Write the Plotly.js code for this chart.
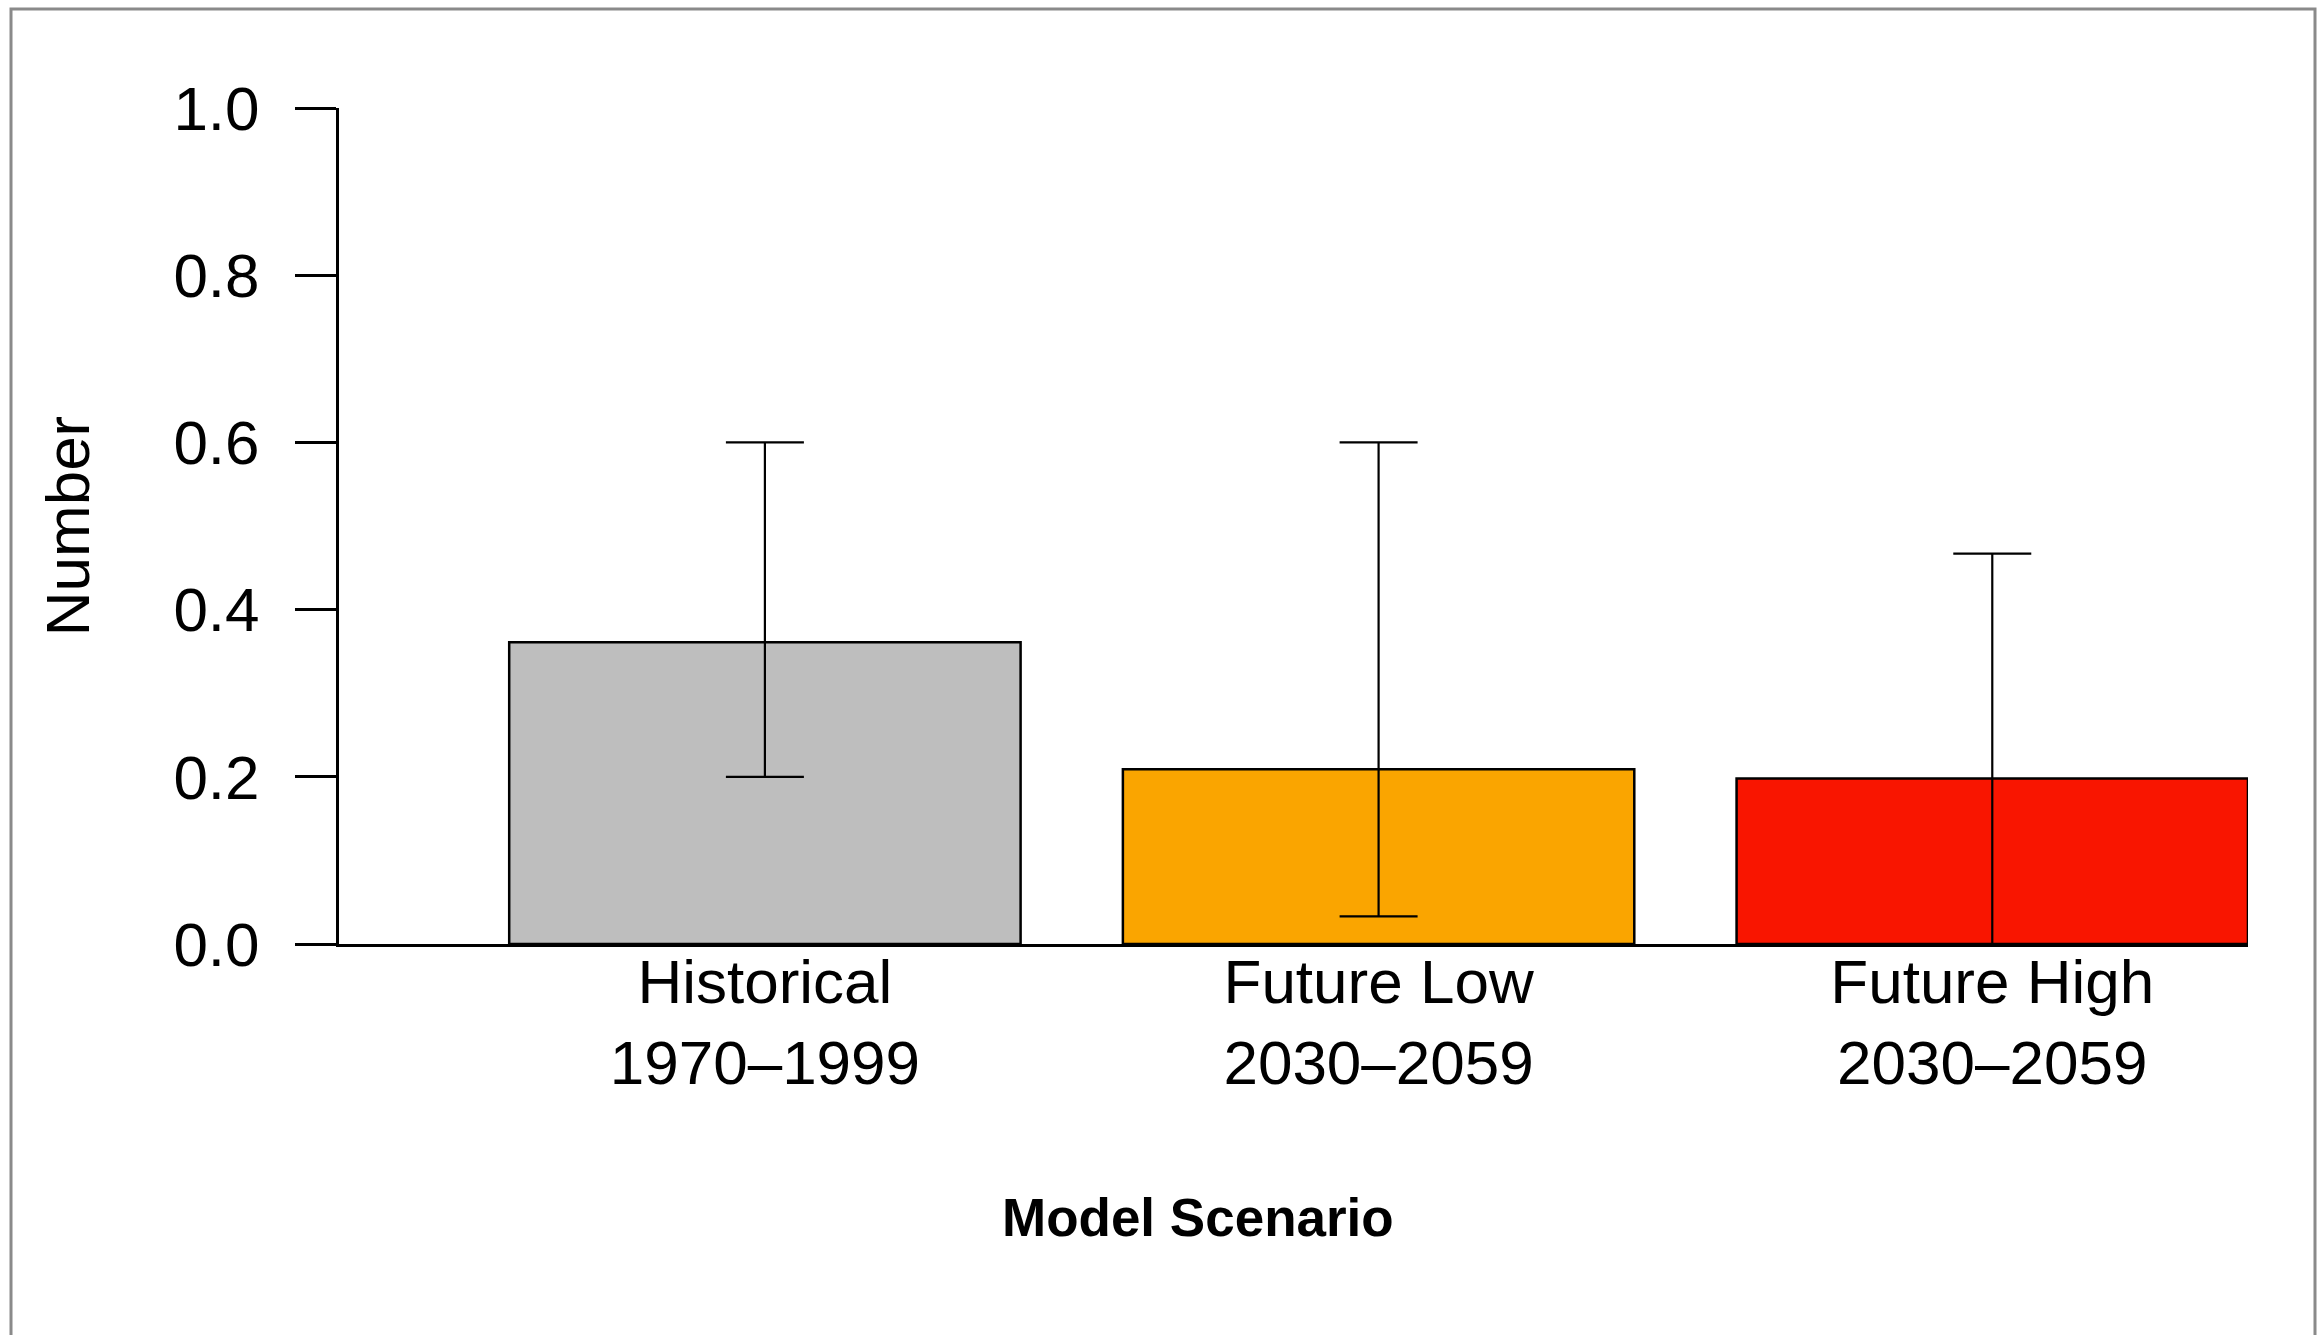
<!DOCTYPE html>
<html>
<head>
<meta charset="utf-8">
<script src="https://cdn.plot.ly/plotly-3.0.1.min.js"></script>
<style>
html,body{margin:0;padding:0;background:#fff;}
#chart{width:2319px;height:1335px;}
</style>
</head>
<body>
<div id="chart"></div>
<script>
// ---- data ----
const scenarios = ["Historical", "Future Low", "Future High"];
const periods = ["1970–1999", "2030–2059", "2030–2059"];
const meanValues = [0.361, 0.209, 0.198];
const lowerValues = [0.200, 0.033, 0.000];
const upperValues = [0.600, 0.600, 0.467];
const barColors = ["#BEBEBE", "#FAA500", "#F91500"];
const yTickVals = [0, 0.2, 0.4, 0.6, 0.8, 1.0];
const yTickText = ["0.0", "0.2", "0.4", "0.6", "0.8", "1.0"];

// ---- layout geometry (pixels) ----
const W = 2319, H = 1335;
const mL = 339, mR = 71, mT = 108, mB = 391;
const plotW = W - mL - mR, plotH = H - mT - mB;
const px2x = p => (p - mL) / plotW;
const px2y = p => (H - mB - p) / plotH;

const labels = scenarios.map((s, i) => s + "<br>" + periods[i]);
const FONT = "Liberation Sans, Arial, Helvetica, sans-serif";

const trace = {
  type: "bar",
  x: labels,
  y: meanValues,
  marker: {color: barColors, line: {color: "#000", width: 2.5}},
  error_y: {
    type: "data",
    symmetric: false,
    array: upperValues.map((u, i) => u - meanValues[i]),
    arrayminus: lowerValues.map((l, i) => meanValues[i] - l),
    color: "#000",
    thickness: 2.2,
    width: 39
  },
  hoverinfo: "skip"
};

const layout = {
  width: W, height: H,
  margin: {l: mL, r: mR, t: mT, b: mB, pad: 0},
  paper_bgcolor: "#fff",
  plot_bgcolor: "rgba(0,0,0,0)",
  showlegend: false,
  bargap: 1 - 1 / 1.2,
  font: {family: FONT, color: "#000", size: 62},
  xaxis: {
    type: "category",
    range: [-0.694, 2.4167],
    showgrid: false,
    zeroline: false,
    showline: true,
    linecolor: "#000",
    linewidth: 3,
    ticks: "",
    ticklabelstandoff: -18,
    tickfont: {family: FONT, size: 62, color: "#000"},
    automargin: false
  },
  yaxis: {
    range: [0, 1],
    tickvals: yTickVals,
    ticktext: yTickText,
    showgrid: false,
    zeroline: false,
    showline: true,
    linecolor: "#000",
    linewidth: 3,
    ticks: "outside",
    ticklen: 41,
    tickwidth: 3,
    tickcolor: "#000",
    ticklabelstandoff: 23,
    tickfont: {family: FONT, size: 62, color: "#000"},
    title: {text: "Number", font: {family: FONT, size: 62, color: "#000"}, standoff: 64},
    automargin: false
  },
  annotations: [{
    text: "<b>Model Scenario</b>",
    xref: "paper", yref: "paper",
    x: px2x(1198), y: px2y(1217),
    xanchor: "center", yanchor: "middle",
    showarrow: false,
    font: {family: FONT, size: 53, color: "#000"}
  }],
  shapes: [{
    type: "rect", xref: "paper", yref: "paper",
    x0: px2x(11), x1: px2x(2315), y0: px2y(1345), y1: px2y(9),
    line: {color: "#8a8a8a", width: 3},
    fillcolor: "rgba(0,0,0,0)",
    layer: "below"
  }]
};

Plotly.newPlot("chart", [trace], layout, {displayModeBar: false, staticPlot: true});
</script>
</body>
</html>
